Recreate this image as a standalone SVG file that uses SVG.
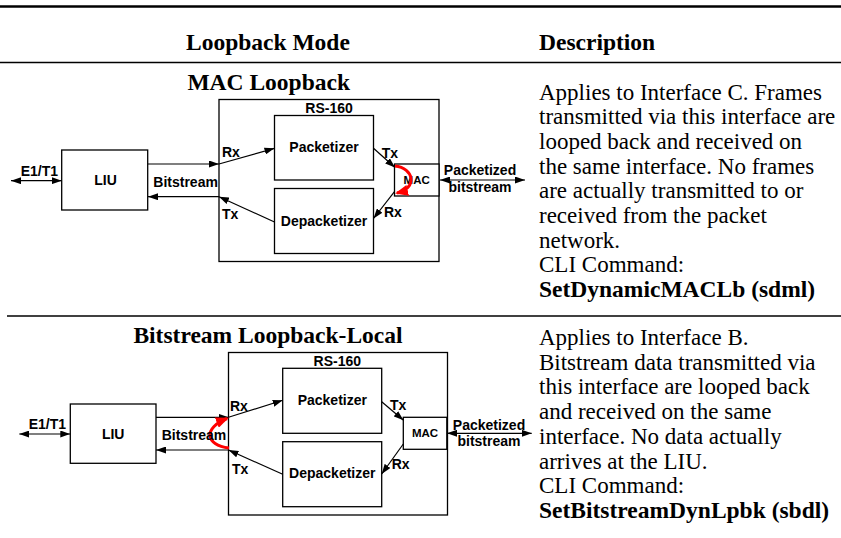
<svg xmlns="http://www.w3.org/2000/svg" width="841" height="538" viewBox="0 0 841 538">
<defs>
<style>
.box{fill:#fff;stroke:#000;stroke-width:1.3}
.lbl{font-family:"Liberation Sans",Arial,sans-serif;font-weight:bold;font-size:14px;fill:#000}
.mid{text-anchor:middle}
.sm{font-size:11.5px}
.conn{stroke:#000;stroke-width:1.2;fill:none}
.red{stroke:#f00;stroke-width:3;fill:none}
.serif{font-family:"Liberation Serif","Times New Roman",serif;font-size:23px;fill:#000}
.hb{font-weight:bold;font-size:23.5px}
.rule{stroke:#000}
</style>
<marker id="ah" markerUnits="userSpaceOnUse" markerWidth="10" markerHeight="7" refX="10" refY="3.5" orient="auto-start-reverse">
<path d="M0,0 L10,3.5 L0,7 z" fill="#000"/>
</marker>
<marker id="rah" markerUnits="userSpaceOnUse" markerWidth="13" markerHeight="11" refX="11" refY="5.5" orient="auto">
<path d="M0,0 L13,5.5 L0,11 z" fill="#f00"/>
</marker>
</defs>
<rect width="841" height="538" fill="#fff"/>

<!-- table rules -->
<line class="rule" x1="0" y1="6.5" x2="841" y2="6.5" stroke-width="2.5"/>
<line class="rule" x1="0" y1="62.5" x2="841" y2="62.5" stroke-width="1.3"/>
<line class="rule" x1="7" y1="316" x2="841" y2="316" stroke-width="1.3"/>

<!-- header -->
<text class="serif hb" x="186" y="50">Loopback Mode</text>
<text class="serif hb" x="539" y="50">Description</text>

<!-- row 1 -->
<text class="serif hb mid" x="268.7" y="89.5">MAC Loopback</text>
<g id="rs160-a"><rect class="box" x="219" y="99.5" width="220" height="162"/><text class="lbl mid" x="329" y="113">RS-160</text></g>
<g id="packetizer-a"><rect class="box" x="274.5" y="115.5" width="99" height="64.5"/><text class="lbl mid" x="324" y="152">Packetizer</text></g>
<g id="depacketizer-a"><rect class="box" x="274.5" y="188.5" width="99" height="65"/><text class="lbl mid" x="324" y="226">Depacketizer</text></g>
<g id="mac-a"><rect class="box" x="394.5" y="164" width="44.5" height="32"/><text class="lbl sm mid" x="416.7" y="184">MAC</text></g>
<g id="liu-a"><rect class="box" x="61.7" y="150" width="86" height="60"/><text class="lbl mid" x="105.5" y="185">LIU</text></g>

<g id="connectors-a">
<line class="conn" x1="11" y1="180.7" x2="61.7" y2="180.7" marker-start="url(#ah)" marker-end="url(#ah)"/>
<line class="conn" x1="148" y1="164" x2="219" y2="164" marker-end="url(#ah)"/>
<line class="conn" x1="219" y1="196.7" x2="148" y2="196.7" marker-end="url(#ah)"/>
<line class="conn" x1="219" y1="164" x2="274.5" y2="148.3" marker-end="url(#ah)"/>
<line class="conn" x1="274.5" y1="222" x2="219" y2="196.7" marker-end="url(#ah)"/>
<line class="conn" x1="373.5" y1="148.3" x2="395" y2="167.5" marker-end="url(#ah)"/>
<line class="conn" x1="394.5" y1="191.7" x2="373.5" y2="218.5" marker-end="url(#ah)"/>
<line class="conn" x1="440" y1="180" x2="525" y2="180" marker-start="url(#ah)" marker-end="url(#ah)"/>
<path class="red" d="M395,166 C414,168 418,188 397,193" marker-end="url(#rah)"/>
<text class="lbl" x="20.7" y="175.5">E1/T1</text>
<text class="lbl" x="153.3" y="186.7">Bitstream</text>
<text class="lbl" x="222" y="157">Rx</text>
<text class="lbl" x="222" y="219">Tx</text>
<text class="lbl" x="381.7" y="158">Tx</text>
<text class="lbl" x="384" y="217">Rx</text>
<text class="lbl mid" x="480" y="175">Packetized</text>
<text class="lbl mid" x="480" y="192">bitstream</text>
</g>

<g id="desc-a" class="serif">
<text x="539" y="99.5">Applies to Interface C. Frames</text>
<text x="539" y="124.2">transmitted via this interface are</text>
<text x="539" y="148.9">looped back and received on</text>
<text x="539" y="173.6">the same interface. No frames</text>
<text x="539" y="198.3">are actually transmitted to or</text>
<text x="539" y="223">received from the packet</text>
<text x="539" y="247.7">network.</text>
<text x="539" y="272.4">CLI Command:</text>
<text class="hb" x="539" y="297.1">SetDynamicMACLb (sdml)</text>
</g>

<!-- row 2 -->
<text class="serif hb mid" x="268" y="343">Bitstream Loopback-Local</text>
<g id="rs160-b"><rect class="box" x="228.5" y="352.5" width="219" height="162.5"/><text class="lbl mid" x="337.3" y="365.7">RS-160</text></g>
<g id="packetizer-b"><rect class="box" x="282.7" y="368.3" width="99" height="65"/><text class="lbl mid" x="332.3" y="405">Packetizer</text></g>
<g id="depacketizer-b"><rect class="box" x="282.7" y="441.7" width="99" height="65"/><text class="lbl mid" x="332.3" y="478.3">Depacketizer</text></g>
<g id="mac-b"><rect class="box" x="403.3" y="417.3" width="43.5" height="32"/><text class="lbl sm mid" x="425" y="437">MAC</text></g>
<g id="liu-b"><rect class="box" x="70.3" y="404" width="85.7" height="59.3"/><text class="lbl mid" x="113.2" y="438.5">LIU</text></g>

<g id="connectors-b">
<line class="conn" x1="19.3" y1="434" x2="70.3" y2="434" marker-start="url(#ah)" marker-end="url(#ah)"/>
<line class="conn" x1="156" y1="417.3" x2="228.5" y2="417.3" marker-end="url(#ah)"/>
<line class="conn" x1="228.5" y1="450" x2="156" y2="450" marker-end="url(#ah)"/>
<line class="conn" x1="228.5" y1="417.3" x2="282.7" y2="400.3" marker-end="url(#ah)"/>
<line class="conn" x1="282.7" y1="474.3" x2="228.5" y2="450" marker-end="url(#ah)"/>
<line class="conn" x1="381.7" y1="401.7" x2="403.5" y2="420.3" marker-end="url(#ah)"/>
<line class="conn" x1="403.3" y1="444" x2="381.7" y2="474" marker-end="url(#ah)"/>
<line class="conn" x1="447" y1="433.3" x2="531.7" y2="433.3" marker-start="url(#ah)" marker-end="url(#ah)"/>
<path class="red" d="M229,448 C205,445 203,428 227,418.5" marker-end="url(#rah)"/>
<text class="lbl" x="28.7" y="429">E1/T1</text>
<text class="lbl" x="161.7" y="440">Bitstream</text>
<text class="lbl" x="230" y="410.7">Rx</text>
<text class="lbl" x="232" y="474">Tx</text>
<text class="lbl" x="390" y="410">Tx</text>
<text class="lbl" x="391.7" y="469.3">Rx</text>
<text class="lbl mid" x="489" y="430">Packetized</text>
<text class="lbl mid" x="489" y="446">bitstream</text>
</g>

<g id="desc-b" class="serif">
<text x="539" y="345">Applies to Interface B.</text>
<text x="539" y="369.7">Bitstream data transmitted via</text>
<text x="539" y="394.4">this interface are looped back</text>
<text x="539" y="419.1">and received on the same</text>
<text x="539" y="443.8">interface. No data actually</text>
<text x="539" y="468.5">arrives at the LIU.</text>
<text x="539" y="493.2">CLI Command:</text>
<text class="hb" x="539" y="518">SetBitstreamDynLpbk (sbdl)</text>
</g>
</svg>
